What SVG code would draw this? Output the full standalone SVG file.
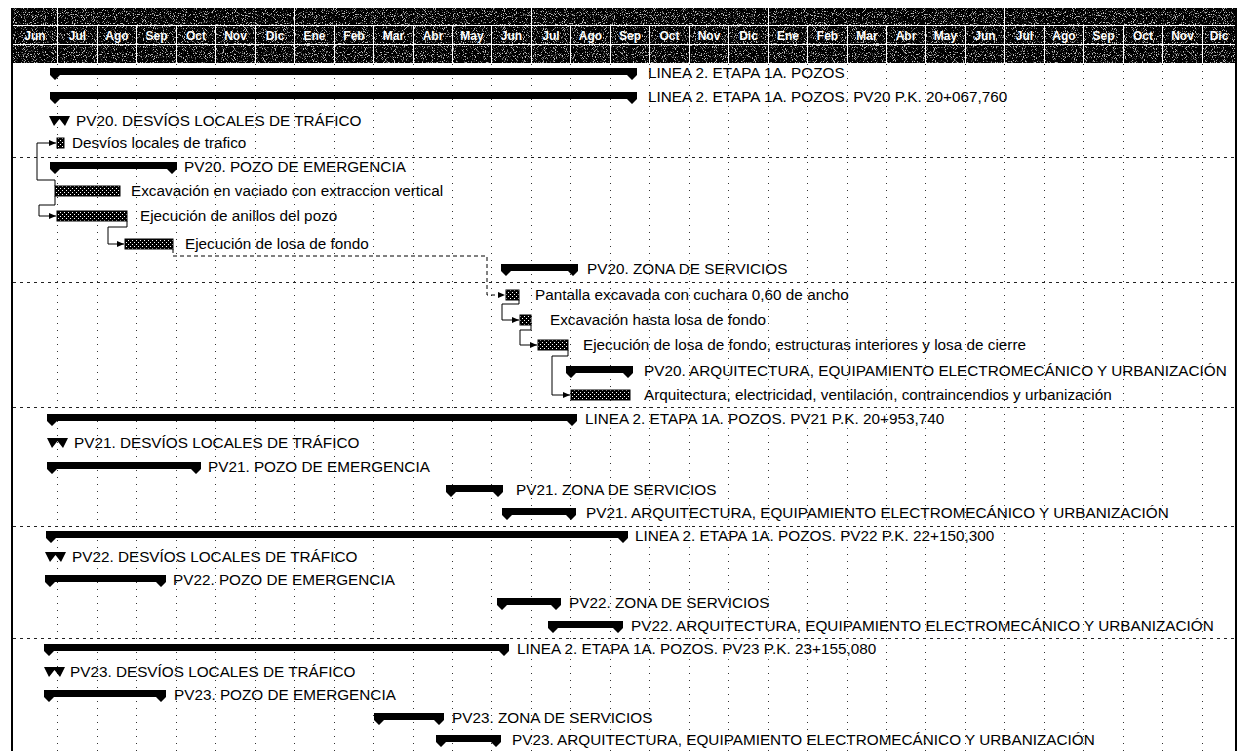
<svg xmlns="http://www.w3.org/2000/svg" width="1240" height="751" viewBox="0 0 1240 751">
  <style>
    .lbl { font-family: "Liberation Sans", Arial, sans-serif; font-size: 15.3px; fill: #000; }
    .mon { font-family: "Liberation Sans", Arial, sans-serif; font-size: 12px; font-weight: bold; fill: #fff; text-anchor: middle; }
    .sum { fill: #000; }
    .task { fill: url(#dither); stroke: #000; stroke-width: 1; }
    .vgrid { stroke: #333; stroke-width: 1; stroke-dasharray: 1 6; fill: none; }
    .hgrid { stroke: #222; stroke-width: 1; stroke-dasharray: 3 4; fill: none; }
    .hsep { stroke: #fff; stroke-width: 1; fill: none; }
    .link { stroke: #000; stroke-width: 1; fill: none; }
    .link.dash { stroke-dasharray: 4 3; }
  </style>
  <defs>
    <pattern id="dither" width="4" height="4" patternUnits="userSpaceOnUse">
      <rect width="4" height="4" fill="#000"/>
      <rect x="0" y="0" width="1" height="1" fill="#fff"/>
      <rect x="2" y="2" width="1" height="1" fill="#fff"/>
    </pattern>
    <filter id="grain" x="0" y="0" width="100%" height="100%">
      <feTurbulence type="fractalNoise" baseFrequency="0.9" numOctaves="1" seed="7" result="n"/>
      <feColorMatrix in="n" type="matrix" values="0 0 0 0 1  0 0 0 0 1  0 0 0 0 1  9 0 0 0 -5" result="w"/>
      <feComposite in="w" in2="SourceAlpha" operator="in"/>
    </filter>
    <marker id="arr" markerWidth="7" markerHeight="6" refX="7" refY="3" orient="auto" markerUnits="userSpaceOnUse">
      <path d="M0,0 L7,3 L0,6 Z" fill="#000"/>
    </marker>
  </defs>

  <rect width="1240" height="751" fill="#fff"/>

  <!-- timescale header: semesters / months / lower tier -->
  <g id="timescale">
    <rect x="13" y="8" width="1223" height="55" fill="#000"/>
    <rect x="13" y="8" width="1223" height="55" fill="#fff" filter="url(#grain)" opacity="0.75"/>
    <path class="hsep" d="M13 25.5H1236M13 44.5H1236"/>
    <path class="hsep" d="M57.5 8V25M294.5 8V25M531.5 8V25M768.5 8V25M1004.5 8V25"/>
    <path class="hsep" d="M57.5 26V63M97.5 26V63M136.5 26V63M176.5 26V63M215.5 26V63M255.5 26V63M294.5 26V63M334.5 26V63M373.5 26V63M413.5 26V63M452.5 26V63M491.5 26V63M531.5 26V63M570.5 26V63M610.5 26V63M649.5 26V63M689.5 26V63M728.5 26V63M768.5 26V63M807.5 26V63M847.5 26V63M886.5 26V63M925.5 26V63M965.5 26V63M1004.5 26V63M1044.5 26V63M1083.5 26V63M1123.5 26V63M1162.5 26V63M1202.5 26V63"/>
    <g>
      <text class="mon" x="35" y="40">Jun</text>
      <text class="mon" x="77.5" y="40">Jul</text>
      <text class="mon" x="117" y="40">Ago</text>
      <text class="mon" x="156.5" y="40">Sep</text>
      <text class="mon" x="196" y="40">Oct</text>
      <text class="mon" x="235.5" y="40">Nov</text>
      <text class="mon" x="275" y="40">Dic</text>
      <text class="mon" x="314.5" y="40">Ene</text>
      <text class="mon" x="354" y="40">Feb</text>
      <text class="mon" x="393.5" y="40">Mar</text>
      <text class="mon" x="433" y="40">Abr</text>
      <text class="mon" x="472" y="40">May</text>
      <text class="mon" x="511.5" y="40">Jun</text>
      <text class="mon" x="551" y="40">Jul</text>
      <text class="mon" x="590.5" y="40">Ago</text>
      <text class="mon" x="630" y="40">Sep</text>
      <text class="mon" x="669.5" y="40">Oct</text>
      <text class="mon" x="709" y="40">Nov</text>
      <text class="mon" x="748.5" y="40">Dic</text>
      <text class="mon" x="788" y="40">Ene</text>
      <text class="mon" x="827.5" y="40">Feb</text>
      <text class="mon" x="867" y="40">Mar</text>
      <text class="mon" x="906" y="40">Abr</text>
      <text class="mon" x="945.5" y="40">May</text>
      <text class="mon" x="985" y="40">Jun</text>
      <text class="mon" x="1024.5" y="40">Jul</text>
      <text class="mon" x="1064" y="40">Ago</text>
      <text class="mon" x="1103.5" y="40">Sep</text>
      <text class="mon" x="1143" y="40">Oct</text>
      <text class="mon" x="1182.5" y="40">Nov</text>
      <text class="mon" x="1219" y="40">Dic</text>
    </g>
  </g>

  <!-- chart grid and frame -->
  <g id="grid">
    <path class="vgrid" d="M57.5 64V751M97.5 64V751M136.5 64V751M176.5 64V751M215.5 64V751M255.5 64V751M294.5 64V751M334.5 64V751M373.5 64V751M413.5 64V751M452.5 64V751M491.5 64V751M531.5 64V751M570.5 64V751M610.5 64V751M649.5 64V751M689.5 64V751M728.5 64V751M768.5 64V751M807.5 64V751M847.5 64V751M886.5 64V751M925.5 64V751M965.5 64V751M1004.5 64V751M1044.5 64V751M1083.5 64V751M1123.5 64V751M1162.5 64V751M1202.5 64V751"/>
    <path class="hgrid" d="M13 157.5H1236M13 282.5H1236M13 407.5H1236M13 526.5H1236M13 638.5H1236"/>
    <path d="M12 8V751M1236 8V751" stroke="#000" stroke-width="2" fill="none"/>
  </g>

  <!-- dependency links -->
  <g id="connectors">
    <path class="link" d="M55 186V180H37V143H56" marker-end="url(#arr)"/>
    <path class="link" d="M55 196V205H39V216H56" marker-end="url(#arr)"/>
    <path class="link" d="M127 221V227H108V244H124" marker-end="url(#arr)"/>
    <path class="link dash" d="M173 249V256H487V295H505" marker-end="url(#arr)"/>
    <path class="link" d="M519 300V304H502V320H519" marker-end="url(#arr)"/>
    <path class="link" d="M531 325V330H520V345H537" marker-end="url(#arr)"/>
    <path class="link" d="M568 350V356H552V395H570" marker-end="url(#arr)"/>
  </g>

  <!-- PV20 -->
  <g id="t01"><path class="sum" d="M50 68H637V75L632 80L627 75H60L55 80L50 75Z"/><text class="lbl" x="648" y="78">LINEA 2. ETAPA 1A. POZOS</text></g>
  <g id="t02"><path class="sum" d="M50 92H637V99L632 104L627 99H60L55 104L50 99Z"/><text class="lbl" x="648" y="102">LINEA 2. ETAPA 1A. POZOS. PV20 P.K. 20+067,760</text></g>
  <g id="t03"><path class="sum" d="M49 116H70L65 126L59.5 119L54 126Z"/><text class="lbl" x="76" y="126">PV20. DESVÍOS LOCALES DE TRÁFICO</text></g>
  <g id="t04"><rect class="task" x="57" y="138" width="7" height="10"/><text class="lbl" x="72" y="148">Desvíos locales de trafico</text></g>
  <g id="t05"><path class="sum" d="M50 162H177V169L172 174L167 169H60L55 174L50 169Z"/><text class="lbl" x="184" y="172">PV20. POZO DE EMERGENCIA</text></g>
  <g id="t06"><rect class="task" x="55" y="186" width="65" height="10"/><text class="lbl" x="131" y="196">Excavación en vaciado con extraccion vertical</text></g>
  <g id="t07"><rect class="task" x="57" y="211" width="70" height="10"/><text class="lbl" x="140" y="221">Ejecución de anillos del pozo</text></g>
  <g id="t08"><rect class="task" x="125" y="239" width="48" height="10"/><text class="lbl" x="185" y="249">Ejecución de losa de fondo</text></g>
  <g id="t09"><path class="sum" d="M501 264H578V271L573 276L568 271H511L506 276L501 271Z"/><text class="lbl" x="587" y="274">PV20. ZONA DE SERVICIOS</text></g>
  <g id="t10"><rect class="task" x="506" y="290" width="13" height="10"/><text class="lbl" x="535" y="300">Pantalla excavada con cuchara 0,60 de ancho</text></g>
  <g id="t11"><rect class="task" x="520" y="315" width="11" height="10"/><text class="lbl" x="550" y="325">Excavación hasta losa de fondo</text></g>
  <g id="t12"><rect class="task" x="538" y="340" width="30" height="10"/><text class="lbl" x="583" y="350">Ejecución de losa de fondo, estructuras interiores y losa de cierre</text></g>
  <g id="t13"><path class="sum" d="M566 366H633V373L628 378L623 373H576L571 378L566 373Z"/><text class="lbl" x="644" y="376">PV20. ARQUITECTURA, EQUIPAMIENTO ELECTROMECÁNICO Y URBANIZACIÓN</text></g>
  <g id="t14"><rect class="task" x="571" y="390" width="59" height="10"/><text class="lbl" x="644" y="400">Arquitectura, electricidad, ventilación, contraincendios y urbanización</text></g>

  <!-- PV21 -->
  <g id="t15"><path class="sum" d="M47 414H577V421L572 426L567 421H57L52 426L47 421Z"/><text class="lbl" x="585" y="424">LINEA 2. ETAPA 1A. POZOS. PV21 P.K. 20+953,740</text></g>
  <g id="t16"><path class="sum" d="M47 438H68L63 448L57.5 441L52 448Z"/><text class="lbl" x="74" y="448">PV21. DESVÍOS LOCALES DE TRÁFICO</text></g>
  <g id="t17"><path class="sum" d="M47 462H201V469L196 474L191 469H57L52 474L47 469Z"/><text class="lbl" x="208" y="472">PV21. POZO DE EMERGENCIA</text></g>
  <g id="t18"><path class="sum" d="M446 485H503V492L498 497L493 492H456L451 497L446 492Z"/><text class="lbl" x="516" y="495">PV21. ZONA DE SERVICIOS</text></g>
  <g id="t19"><path class="sum" d="M502 508H576V515L571 520L566 515H512L507 520L502 515Z"/><text class="lbl" x="586" y="518">PV21. ARQUITECTURA, EQUIPAMIENTO ELECTROMECÁNICO Y URBANIZACIÓN</text></g>

  <!-- PV22 -->
  <g id="t20"><path class="sum" d="M46 531H628V538L623 543L618 538H56L51 543L46 538Z"/><text class="lbl" x="635" y="541">LINEA 2. ETAPA 1A. POZOS. PV22 P.K. 22+150,300</text></g>
  <g id="t21"><path class="sum" d="M45 552H66L61 562L55.5 555L50 562Z"/><text class="lbl" x="72" y="562">PV22. DESVÍOS LOCALES DE TRÁFICO</text></g>
  <g id="t22"><path class="sum" d="M45 575H166V582L161 587L156 582H55L50 587L45 582Z"/><text class="lbl" x="173" y="585">PV22. POZO DE EMERGENCIA</text></g>
  <g id="t23"><path class="sum" d="M497 598H561V605L556 610L551 605H507L502 610L497 605Z"/><text class="lbl" x="569" y="608">PV22. ZONA DE SERVICIOS</text></g>
  <g id="t24"><path class="sum" d="M548 621H623V628L618 633L613 628H558L553 633L548 628Z"/><text class="lbl" x="631" y="631">PV22. ARQUITECTURA, EQUIPAMIENTO ELECTROMECÁNICO Y URBANIZACIÓN</text></g>

  <!-- PV23 -->
  <g id="t25"><path class="sum" d="M44 644H509V651L504 656L499 651H54L49 656L44 651Z"/><text class="lbl" x="517" y="654">LINEA 2. ETAPA 1A. POZOS. PV23 P.K. 23+155,080</text></g>
  <g id="t26"><path class="sum" d="M44 667H65L60 677L54.5 670L49 677Z"/><text class="lbl" x="70" y="677">PV23. DESVÍOS LOCALES DE TRÁFICO</text></g>
  <g id="t27"><path class="sum" d="M44 690H166V697L161 702L156 697H54L49 702L44 697Z"/><text class="lbl" x="174" y="700">PV23. POZO DE EMERGENCIA</text></g>
  <g id="t28"><path class="sum" d="M374 713H444V720L439 725L434 720H384L379 725L374 720Z"/><text class="lbl" x="452" y="723">PV23. ZONA DE SERVICIOS</text></g>
  <g id="t29"><path class="sum" d="M436 735H501V742L496 747L491 742H446L441 747L436 742Z"/><text class="lbl" x="512" y="745">PV23. ARQUITECTURA, EQUIPAMIENTO ELECTROMECÁNICO Y URBANIZACIÓN</text></g>
</svg>
